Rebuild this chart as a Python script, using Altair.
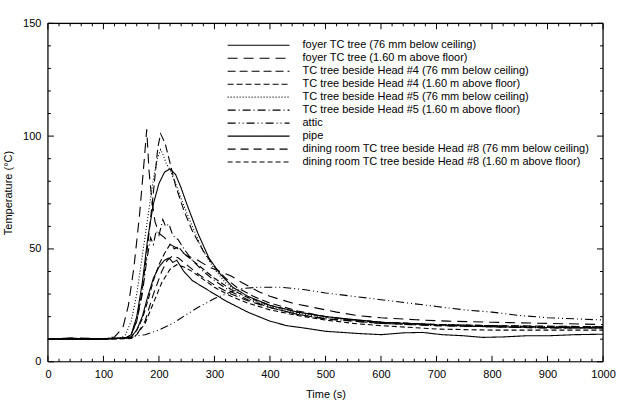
import altair as alt
import pandas as pd

# ---- data ----
labels = [
    "foyer TC tree (76 mm below ceiling)",
    "foyer TC tree (1.60 m above floor)",
    "TC tree beside Head #4 (76 mm below ceiling)",
    "TC tree beside Head #4 (1.60 m above floor)",
    "TC tree beside Head #5 (76 mm below ceiling)",
    "TC tree beside Head #5 (1.60 m above floor)",
    "attic",
    "pipe",
    "dining room TC tree beside Head #8 (76 mm below ceiling)",
    "dining room TC tree beside Head #8 (1.60 m above floor)",
]

foyer_ceiling = [[0,10],[40,10.5],[80,10],[120,10.3],[140,10.5],[150,11],[160,14],[170,20],[180,29],[190,37],[200,42],[210,45],[218,46],[225,44],[232,45],[245,40],[260,36],[280,33],[300,30],[320,27],[340,24.5],[360,22],[380,20],[400,18],[430,16],[460,15],[500,13.5],[530,13],[560,12.5],[600,12],[640,12.8],[675,13],[710,12],[750,11.5],[783,10.8],[820,11],[860,11.5],[900,11.5],[950,12],[1000,12.2]]
foyer_floor = [[0,10],[50,10.5],[100,10.2],[120,11],[135,15],[145,25],[155,42],[165,65],[172,85],[178,103],[182,85],[187,72],[193,62],[200,57],[210,55],[220,52],[235,50],[250,47],[270,45],[290,42],[310,40],[330,38],[350,35],[380,31],[400,29],[440,26],[480,24],[520,22],[556,20.5],[600,19.5],[663,18.6],[720,18],[800,17.5],[900,17],[1000,16.5]]
head4_ceiling = [[0,10],[100,10.3],[140,10.5],[150,12],[160,18],[170,32],[180,52],[190,75],[198,95],[203,101],[207,99],[212,96],[220,88],[230,78],[245,67],[260,58],[280,49],[300,42],[320,37],[340,33],[370,29],[400,26],[450,22.5],[500,20],[550,18.5],[600,17.5],[700,16.5],[800,16],[900,15.8],[1000,15.5]]
head4_floor = [[0,10],[100,10],[140,10.3],[150,11],[160,14],[170,19],[180,27],[190,36],[200,43],[210,48],[220,52],[228,50],[235,51],[245,48],[260,45],[280,41],[300,37],[330,32],[360,28.5],[400,25],[450,22],[500,20],[550,18.5],[600,17.5],[700,16.5],[800,16],[900,15.5],[1000,15.5]]
head5_ceiling = [[0,10],[100,10.3],[130,10.5],[140,12],[150,18],[160,30],[170,47],[180,64],[190,81],[197,90],[203,94],[207,92],[213,88],[220,85],[230,79],[245,69],[260,60],[280,49],[300,41],[320,35],[340,31],[370,27],[400,24.5],[450,21.5],[500,19.5],[600,17.5],[700,16.5],[800,16],[900,15.5],[1000,15]]
head5_floor = [[0,10],[100,10.2],[140,10.5],[150,12],[160,18],[170,30],[178,45],[185,55],[190,52],[195,58],[200,56],[207,63],[212,60],[218,61],[225,56],[235,54],[245,50],[260,45],[280,40],[300,36],[330,31],[360,27.5],[400,24],[450,21],[500,19],[600,17],[700,16],[800,15.5],[900,15],[1000,15]]
attic = [[0,10],[100,10],[130,10.5],[150,11],[175,12],[200,14],[225,17],[250,21],[270,24],[300,28],[330,31],[350,32.5],[380,33],[420,33],[460,32],[500,30.5],[550,29],[600,27.5],[650,26],[700,24.5],[750,23],[800,22],[850,20.5],[900,19.5],[950,19],[1000,18.5]]
pipe = [[0,10],[100,10.2],[140,10.5],[150,12],[160,20],[170,35],[180,55],[190,70],[200,79],[210,84],[220,85.5],[230,83],[240,77],[250,70],[270,57],[290,46],[310,39],[333,33],[360,29],[400,25],[450,22],[500,20],[600,17.5],[700,16.3],[800,15.5],[900,15.2],[1000,15]]
dining_ceiling = [[0,10],[100,10.2],[150,10.5],[160,12],[175,18],[190,30],[205,40],[215,45],[225,47],[235,46],[250,43],[270,39],[300,34],[330,30],[360,27],[400,24],[450,21],[500,19],[600,17],[700,16],[800,15.5],[900,15],[1000,15]]
dining_floor = [[0,10],[100,10],[150,10.3],[160,12],[175,17],[190,26],[205,35],[220,41],[232,43],[245,42],[260,40],[280,36.5],[300,33],[330,29],[360,26],[400,23],[450,20.5],[500,18.5],[550,17],[600,16],[700,14.5],[800,14],[900,14],[1000,14]]

series_points = [foyer_ceiling, foyer_floor, head4_ceiling, head4_floor,
                 head5_ceiling, head5_floor, attic, pipe,
                 dining_ceiling, dining_floor]

x_major = [0, 100, 200, 300, 400, 500, 600, 700, 800, 900, 1000]
x_minor = [v for v in range(0, 1001, 20) if v % 100 != 0]
y_major = [0, 50, 100, 150]
y_minor = [v for v in range(0, 151, 10) if v % 50 != 0]

# ---- styles ----
dashes = [[1, 0], [10, 6], [8, 4], [6, 3], [1, 2], [8, 3, 1, 3],
          [8, 3, 1, 3, 1, 3], [1, 0], [8, 5], [5, 3]]
FONT = "Liberation Sans"
W, H = 556, 339

rows = []
for name, pts in zip(labels, series_points):
    for t, v in pts:
        rows.append({"series": name, "t": t, "T": v})
df = pd.DataFrame(rows)
leg_df = pd.DataFrame({"series": labels, "row": list(range(len(labels)))})

xs = alt.Scale(domain=[0, 1000], nice=False, zero=False)
ys = alt.Scale(domain=[0, 150], nice=False, zero=False)
dash_scale = alt.Scale(domain=labels, range=dashes)

axis_common = dict(ticks=False, domain=False, grid=False, labelPadding=7,
                   labelFontSize=11, titleFontSize=11, titleFontWeight="normal",
                   titlePadding=9, labelFont=FONT, titleFont=FONT,
                   labelColor="black", titleColor="black", labelFlush=False,
                   format="d")

lines = alt.Chart(df).mark_line(color="black", strokeWidth=1.1).encode(
    x=alt.X("t:Q", scale=xs, title="Time (s)",
            axis=alt.Axis(values=x_major, **axis_common)),
    y=alt.Y("T:Q", scale=ys, title="Temperature (°C)",
            axis=alt.Axis(values=y_major, **axis_common)),
    strokeDash=alt.StrokeDash("series:N", scale=dash_scale, legend=None),
    detail="series:N",
)

def xticks(vals, length):
    d = pd.DataFrame({"xv": vals})
    bot = alt.Chart(d).mark_rule(color="black", strokeWidth=1).encode(
        x=alt.X("xv:Q", scale=xs), y=alt.value(H), y2=alt.value(H - length))
    top = alt.Chart(d).mark_rule(color="black", strokeWidth=1).encode(
        x=alt.X("xv:Q", scale=xs), y=alt.value(0), y2=alt.value(length))
    return [bot, top]

def yticks(vals, length):
    d = pd.DataFrame({"yv": vals})
    left = alt.Chart(d).mark_rule(color="black", strokeWidth=1).encode(
        y=alt.Y("yv:Q", scale=ys, axis=None), x=alt.value(0), x2=alt.value(length))
    right = alt.Chart(d).mark_rule(color="black", strokeWidth=1).encode(
        y=alt.Y("yv:Q", scale=ys, axis=None), x=alt.value(W), x2=alt.value(W - length))
    return [left, right]

leg_y = alt.Scale(domain=[0, 9], range=[22, 139], nice=False, zero=False)
leg_rules = alt.Chart(leg_df).mark_rule(color="black", strokeWidth=1.1).encode(
    y=alt.Y("row:Q", scale=leg_y, axis=None),
    x=alt.value(180), x2=alt.value(242),
    strokeDash=alt.StrokeDash("series:N", scale=dash_scale, legend=None),
)
leg_text = alt.Chart(leg_df).mark_text(
    align="left", baseline="middle", font=FONT, fontSize=11, color="black"
).encode(
    y=alt.Y("row:Q", scale=leg_y, axis=None),
    x=alt.value(255),
    text="series:N",
)

frame_df = pd.DataFrame({"k": [0]})
frame = [
    alt.Chart(frame_df).mark_rule(color="black", strokeWidth=1.2).encode(
        x=alt.value(0), x2=alt.value(W), y=alt.value(0)),
    alt.Chart(frame_df).mark_rule(color="black", strokeWidth=1.2).encode(
        x=alt.value(0), x2=alt.value(W), y=alt.value(H)),
    alt.Chart(frame_df).mark_rule(color="black", strokeWidth=1.2).encode(
        y=alt.value(0), y2=alt.value(H), x=alt.value(0)),
    alt.Chart(frame_df).mark_rule(color="black", strokeWidth=1.2).encode(
        y=alt.value(0), y2=alt.value(H), x=alt.value(W)),
]

layers = [lines] + xticks(x_major, 6) + xticks(x_minor, 3) + \
    yticks(y_major, 6) + yticks(y_minor, 3) + [leg_rules, leg_text] + frame

panel = alt.layer(*layers).resolve_scale(y="independent").properties(
    width=W, height=H)

chart = alt.vconcat(panel).properties(
    padding={"left": 2, "top": 16, "right": 5, "bottom": 5},
    background="white",
)

chart.save("out.html", embed_options={"renderer": "svg", "actions": False})
